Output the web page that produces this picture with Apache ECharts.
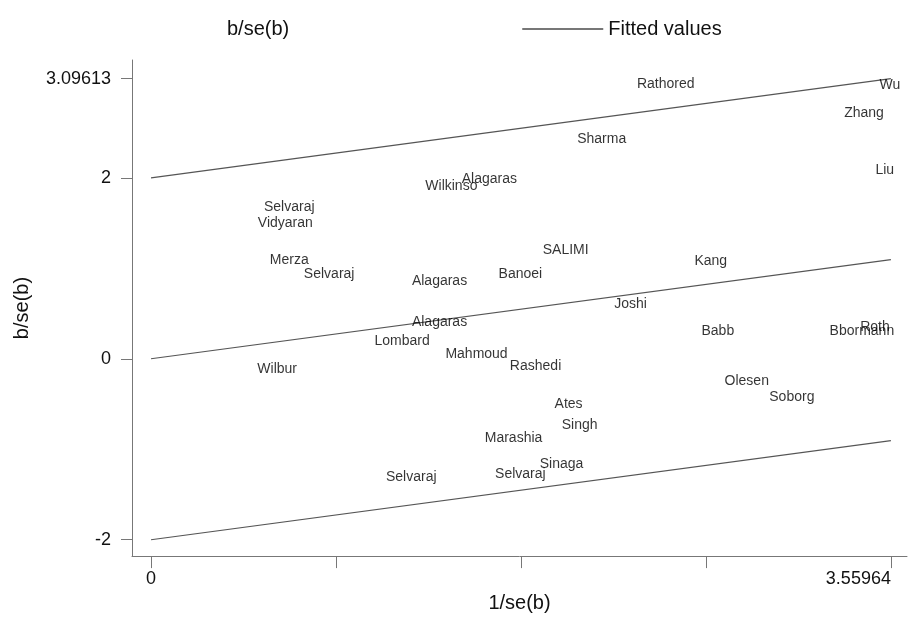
<!DOCTYPE html>
<html>
<head>
<meta charset="utf-8">
<script src="https://cdn.jsdelivr.net/npm/echarts@6/dist/echarts.min.js"></script>
<style>html,body{margin:0;padding:0;background:#fff;}#chart{width:908px;height:618px;}</style>
</head>
<body>
<div id="chart"></div>
<script>
// Study labels and their coordinates (1/se(b), b/se(b))
const studies = ['Rathored','Wu','Zhang','Sharma','Liu','Alagaras','Wilkinso','Selvaraj','Vidyaran','Merza','Selvaraj','Alagaras','Banoei','SALIMI','Kang','Joshi','Babb','Roth','Bbormann','Alagaras','Lombard','Mahmoud','Rashedi','Wilbur','Olesen','Soborg','Ates','Singh','Marashia','Sinaga','Selvaraj','Selvaraj'];
const invSE = [2.476,3.555,3.43,2.168,3.53,1.628,1.445,0.665,0.646,0.665,0.857,1.388,1.777,1.995,2.693,2.307,2.727,3.483,3.42,1.388,1.208,1.566,1.85,0.607,2.866,3.083,2.009,2.062,1.744,1.975,1.777,1.252];
const zScores = [3.03,3.02,2.72,2.43,2.09,1.99,1.91,1.68,1.50,1.09,0.94,0.86,0.94,1.20,1.08,0.60,0.30,0.35,0.31,0.41,0.20,0.05,-0.08,-0.12,-0.25,-0.42,-0.50,-0.73,-0.88,-1.16,-1.28,-1.31];
// Fitted line and +/-2 bounds (endpoints)
const fitX = [0, 3.55964];
const fitY = [0, 1.09613];
const upperY = [2, 3.09613];
const lowerY = [-2, -0.90387];
// Axis ticks
const xTicks = [0, 0.88991, 1.77982, 2.66973, 3.55964];
const xLabels = [0, 3.55964];
const yTicks = [-2, 0, 2, 3.09613];

const FONT = 'Liberation Sans, Arial, sans-serif';
const chart = echarts.init(document.getElementById('chart'), null, {renderer: 'canvas'});
const pts = studies.map((s, i) => [invSE[i], zScores[i], s]);
const LC = '#555';
const lineStyle = {color: LC, width: 1.2};
const mk = ys => fitX.map((x, i) => [x, ys[i]]);
chart.setOption({
  animation: false,
  backgroundColor: '#fff',
  textStyle: {fontFamily: FONT},
  legend: {
    top: 12, left: 136, itemWidth: 81, itemHeight: 2, itemGap: 233,
    textStyle: {fontSize: 20, color: '#111', fontFamily: FONT, lineHeight: 24},
    data: [
      {name: 'b/se(b)', icon: 'rect', itemStyle: {color: 'rgba(0,0,0,0)', opacity: 0}},
      {name: 'Fitted values', icon: 'rect', itemStyle: {color: '#777'}}
    ]
  },
  grid: {left: 132, right: 1, top: 60, bottom: 59},
  xAxis: {
    type: 'value', min: -0.0915, max: 3.637,
    name: '1/se(b)', nameLocation: 'middle', nameGap: 35,
    nameTextStyle: {fontSize: 20, color: '#111', fontFamily: FONT},
    splitLine: {show: false},
    axisLine: {onZero: false, lineStyle: {color: '#777', width: 1}},
    axisTick: {show: true, length: 12, customValues: xTicks, lineStyle: {color: '#777'}},
    axisLabel: {customValues: xLabels, fontSize: 18, color: '#111', margin: 14, alignMaxLabel: 'right',
      formatter: v => String(v)}
  },
  yAxis: {
    type: 'value', min: -2.181, max: 3.302,
    name: 'b/se(b)', nameLocation: 'middle', nameGap: 100, nameRotate: 90,
    nameTextStyle: {fontSize: 20, color: '#111', fontFamily: FONT},
    splitLine: {show: false},
    axisLine: {show: true, onZero: false, lineStyle: {color: '#777', width: 1}},
    axisTick: {show: true, length: 11, customValues: yTicks, lineStyle: {color: '#777'}},
    axisLabel: {customValues: yTicks, fontSize: 18, color: '#111', margin: 21,
      formatter: v => String(v)}
  },
  series: [
    {
      name: 'b/se(b)', type: 'scatter', symbolSize: 0.01, data: pts,
      itemStyle: {color: 'rgba(0,0,0,0)'},
      label: {show: true, position: 'inside', formatter: p => p.data[2], color: '#000', fontSize: 14, fontFamily: FONT},
      z: 3
    },
    {name: 'Fitted values', type: 'line', data: mk(fitY), symbol: 'none', lineStyle: lineStyle, itemStyle: {color: LC}},
    {name: 'Fitted values', type: 'line', data: mk(upperY), symbol: 'none', lineStyle: lineStyle, itemStyle: {color: LC}},
    {name: 'Fitted values', type: 'line', data: mk(lowerY), symbol: 'none', lineStyle: lineStyle, itemStyle: {color: LC}}
  ]
});
</script>
</body>
</html>
